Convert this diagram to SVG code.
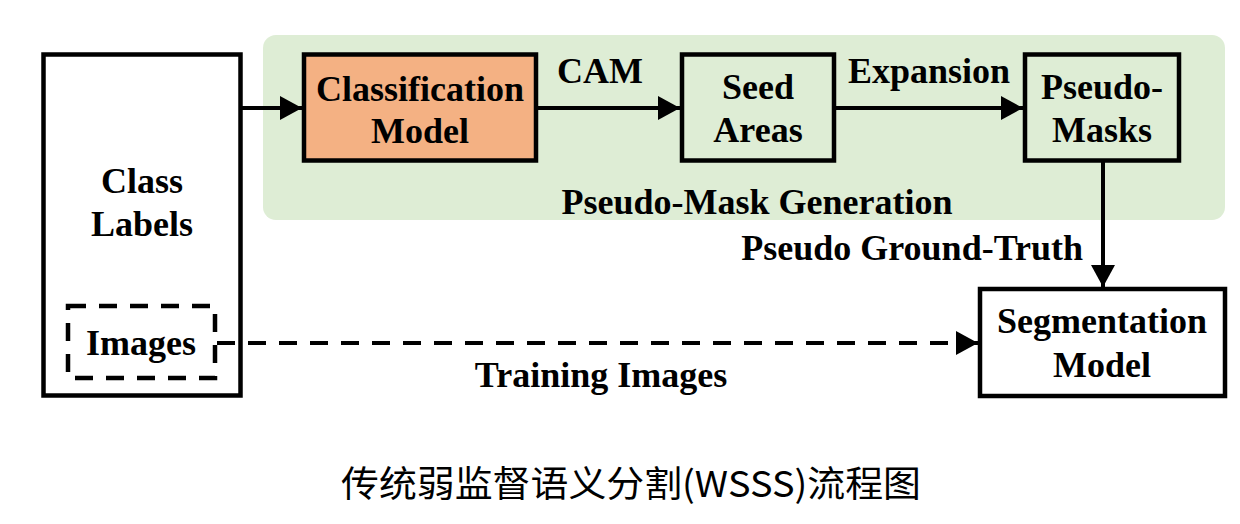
<svg xmlns="http://www.w3.org/2000/svg" width="1240" height="524" viewBox="0 0 1240 524">
<style>
.box{stroke:#000;stroke-width:4.5;}
.t{font-family:"Liberation Serif","Times New Roman",serif;font-weight:bold;font-size:36px;fill:#000;}
.c{text-anchor:middle;}
.line{stroke:#000;stroke-width:4;fill:none;}
.dash{stroke-dasharray:18 13;}
</style>
<defs>
<marker id="ah" markerUnits="userSpaceOnUse" markerWidth="22" markerHeight="24" refX="22" refY="12" orient="auto">
<path d="M0,0 L22,12 L0,24 Z" fill="#000"/>
</marker>
</defs>
<rect width="1240" height="524" fill="#fff"/>
<g id="group-pseudo-mask-generation">
<rect x="263" y="35" width="962" height="185" rx="13" fill="#deedd5"/>
<text class="t c" x="757" y="214">Pseudo-Mask Generation</text>
</g>
<g id="node-class-labels">
<rect class="box" x="43.5" y="54.5" width="197" height="341" fill="#fff"/>
<text class="t c" x="142" y="193">Class</text>
<text class="t c" x="142" y="236">Labels</text>
</g>
<g id="node-images">
<rect class="box dash" x="68" y="306" width="147" height="72" fill="none" stroke-dasharray="18 13"/>
<text class="t c" x="141" y="355">Images</text>
</g>
<g id="node-classification-model">
<rect class="box" x="304" y="54.5" width="232" height="106" fill="#f4b183"/>
<text class="t c" x="420" y="101">Classification</text>
<text class="t c" x="420" y="143">Model</text>
</g>
<g id="node-seed-areas">
<rect class="box" x="682" y="54.5" width="152" height="106" fill="#deedd5"/>
<text class="t c" x="758" y="99">Seed</text>
<text class="t c" x="758" y="142">Areas</text>
</g>
<g id="node-pseudo-masks">
<rect class="box" x="1025" y="54.5" width="154" height="106" fill="#deedd5"/>
<text class="t c" x="1102" y="99">Pseudo-</text>
<text class="t c" x="1102" y="142">Masks</text>
</g>
<g id="node-segmentation-model">
<rect class="box" x="980" y="289" width="245" height="107" fill="#fff"/>
<text class="t c" x="1102" y="333">Segmentation</text>
<text class="t c" x="1102" y="377">Model</text>
</g>
<g id="connectors">
<line class="line" x1="242" y1="108" x2="302" y2="108" marker-end="url(#ah)"/>
<line class="line" x1="538" y1="108" x2="680" y2="108" marker-end="url(#ah)"/>
<line class="line" x1="836" y1="108" x2="1023" y2="108" marker-end="url(#ah)"/>
<line class="line" x1="1103" y1="162" x2="1103" y2="287" marker-end="url(#ah)"/>
<line class="line dash" x1="217" y1="343" x2="978" y2="343" marker-end="url(#ah)"/>
<text class="t c" x="600" y="83">CAM</text>
<text class="t c" x="929" y="83">Expansion</text>
<text class="t" x="1083" y="260" text-anchor="end">Pseudo Ground-Truth</text>
<text class="t c" x="601" y="387">Training Images</text>
</g>
<text x="631" y="497" text-anchor="middle" textLength="580" lengthAdjust="spacingAndGlyphs" font-family="'Noto Sans CJK SC','Noto Sans',sans-serif" font-size="36" fill="#000">传统弱监督语义分割(WSSS)流程图</text>
</svg>
